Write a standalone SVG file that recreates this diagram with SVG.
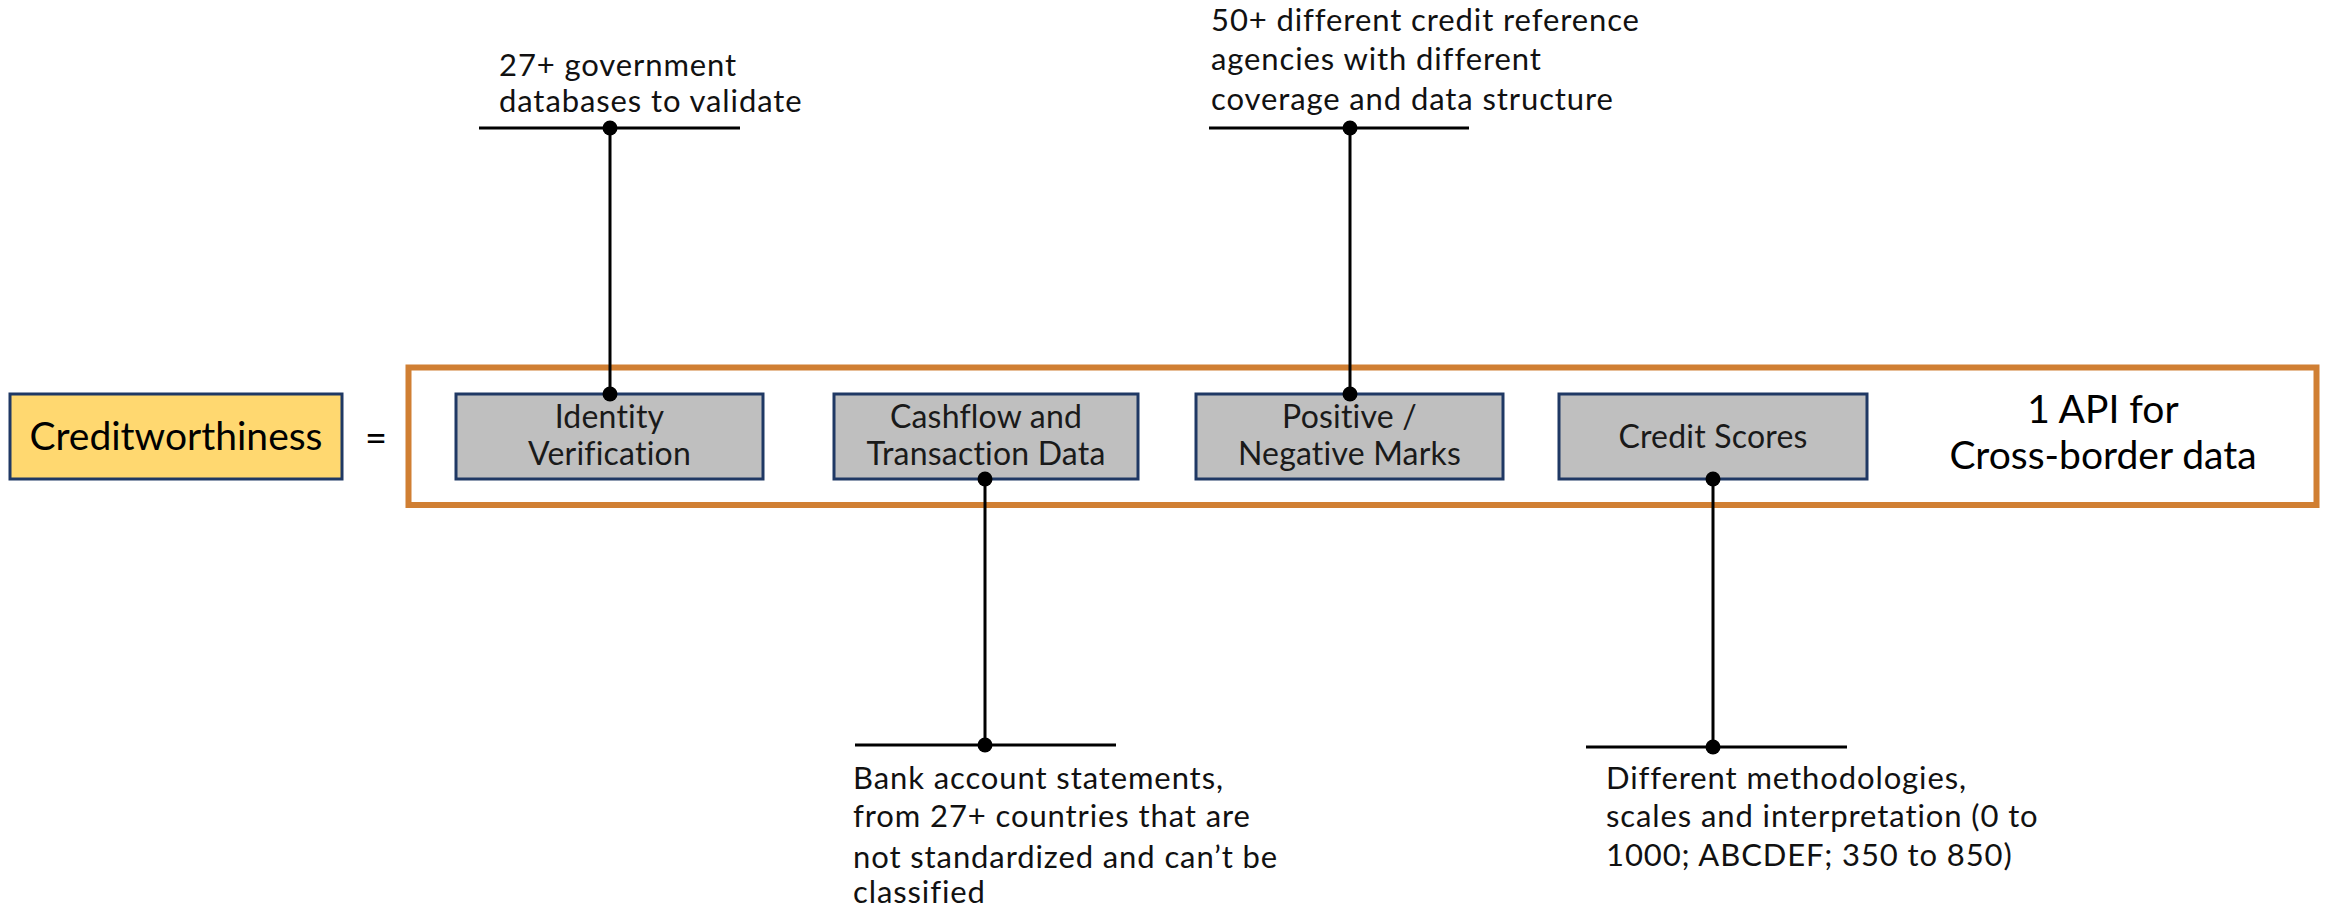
<svg xmlns="http://www.w3.org/2000/svg" width="2330" height="908" viewBox="0 0 2330 908">
<style>
  text { font-family: Lato, "Noto Sans", "Liberation Sans", sans-serif; }
  .box { fill: #BFBFBF; stroke: #1F3864; stroke-width: 3; }
  .boxtxt { font-size: 32px; fill: #1a1a1a; text-anchor: middle; letter-spacing: 0.2px; }
  .note { font-size: 31px; fill: #111; letter-spacing: 0.9px; }
  .conn line { stroke: #000; stroke-width: 3; }
  .conn circle { fill: #000; }
</style>
<rect width="2330" height="908" fill="#fff"/>
<g id="creditworthiness">
  <rect x="10" y="394" width="332" height="85" fill="#FFD870" stroke="#1F3864" stroke-width="3"/>
  <text x="176" y="450" font-size="39" fill="#000" text-anchor="middle">Creditworthiness</text>
</g>
<g id="equals">
  <text x="376" y="452" font-size="38" fill="#000" text-anchor="middle">=</text>
</g>
<g id="api-frame">
  <rect x="408.5" y="367.5" width="1908" height="137.5" fill="none" stroke="#D07F33" stroke-width="6"/>
  <text x="2103" y="423" font-size="39" fill="#000" text-anchor="middle">1 API for</text>
  <text x="2103" y="469" font-size="39" fill="#000" text-anchor="middle">Cross-border data</text>
</g>
<g id="identity">
  <rect class="box" x="456" y="394" width="307" height="85"/>
  <text class="boxtxt" x="609.5" y="428">Identity</text>
  <text class="boxtxt" x="609.5" y="465">Verification</text>
</g>
<g id="cashflow">
  <rect class="box" x="834" y="394" width="304" height="85"/>
  <text class="boxtxt" x="986" y="428">Cashflow and</text>
  <text class="boxtxt" x="986" y="465">Transaction Data</text>
</g>
<g id="marks">
  <rect class="box" x="1196" y="394" width="307" height="85"/>
  <text class="boxtxt" x="1349.5" y="428">Positive /</text>
  <text class="boxtxt" x="1349.5" y="465">Negative Marks</text>
</g>
<g id="scores">
  <rect class="box" x="1559" y="394" width="308" height="85"/>
  <text class="boxtxt" x="1713" y="448">Credit Scores</text>
</g>
<g id="note-identity">
  <text class="note" x="499" y="76">27+ government</text>
  <text class="note" x="499" y="112">databases to validate</text>
</g>
<g id="note-marks">
  <text class="note" x="1211" y="31">50+ different credit reference</text>
  <text class="note" x="1211" y="70">agencies with different</text>
  <text class="note" x="1211" y="110">coverage and data structure</text>
</g>
<g id="note-cashflow">
  <text class="note" x="853" y="789">Bank account statements,</text>
  <text class="note" x="853" y="827">from 27+ countries that are</text>
  <text class="note" x="853" y="868">not standardized and can’t be</text>
  <text class="note" x="853" y="903">classified</text>
</g>
<g id="note-scores">
  <text class="note" x="1606" y="789">Different methodologies,</text>
  <text class="note" x="1606" y="827">scales and interpretation (0 to</text>
  <text class="note" x="1606" y="866">1000; ABCDEF; 350 to 850)</text>
</g>
<g id="connectors" class="conn">
  <line x1="479" y1="128" x2="740" y2="128"/>
  <line x1="610" y1="128" x2="610" y2="394"/>
  <circle cx="610" cy="128" r="7.5"/>
  <circle cx="610" cy="394" r="7.5"/>
  <line x1="1209" y1="128" x2="1469" y2="128"/>
  <line x1="1350" y1="128" x2="1350" y2="394"/>
  <circle cx="1350" cy="128" r="7.5"/>
  <circle cx="1350" cy="394" r="7.5"/>
  <line x1="855" y1="745" x2="1116" y2="745"/>
  <line x1="985" y1="479" x2="985" y2="745"/>
  <circle cx="985" cy="479" r="7.5"/>
  <circle cx="985" cy="745" r="7.5"/>
  <line x1="1586" y1="747" x2="1847" y2="747"/>
  <line x1="1713" y1="479" x2="1713" y2="747"/>
  <circle cx="1713" cy="479" r="7.5"/>
  <circle cx="1713" cy="747" r="7.5"/>
</g>
</svg>
